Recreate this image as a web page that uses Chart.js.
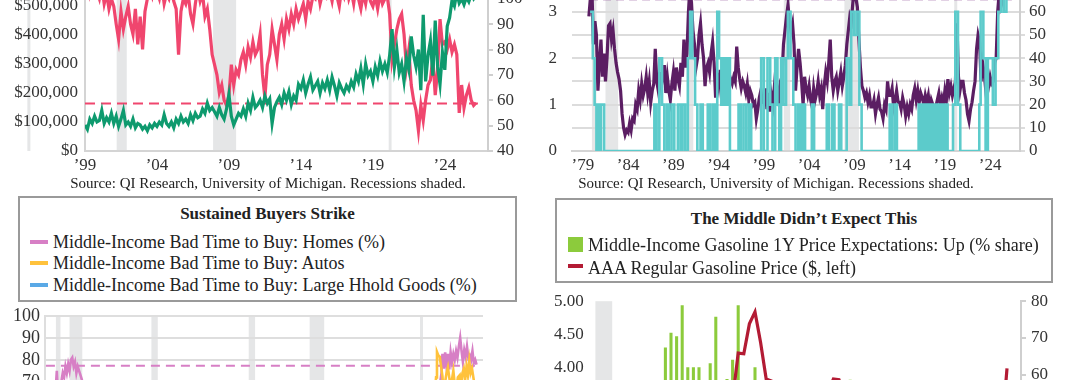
<!DOCTYPE html>
<html><head><meta charset="utf-8">
<script src="https://cdn.jsdelivr.net/npm/chart.js@4.4.1/dist/chart.umd.min.js"></script>
<style>
html,body{margin:0;padding:0;}
body{width:1080px;height:380px;overflow:hidden;position:relative;background:#fff;font-family:'Liberation Serif',serif;color:#222;}
.wrap{position:absolute;}
.src{position:absolute;font-size:15px;line-height:18px;white-space:nowrap;transform:translateX(-50%);color:#222;}
.lbox{position:absolute;border:2px solid #9a9a9a;box-sizing:border-box;background:#fff;}
.lbox .t{position:absolute;left:0;right:0;font-weight:bold;text-align:center;font-size:17px;line-height:20px;}
.item{position:absolute;font-size:18px;line-height:20px;white-space:nowrap;}
.mk{position:absolute;}
</style></head><body>

<div class="wrap" style="left:0;top:-100px;width:540px;height:285px"><canvas id="c1"></canvas></div>
<div class="wrap" style="left:540px;top:-100px;width:540px;height:285px"><canvas id="c2"></canvas></div>
<div class="wrap" style="left:0;top:300px;width:540px;height:300px"><canvas id="c3"></canvas></div>
<div class="wrap" style="left:540px;top:285px;width:540px;height:360px"><canvas id="c4"></canvas></div>

<div class="src" style="left:268px;top:174px">Source: QI Research, University of Michigan. Recessions shaded.</div>
<div class="src" style="left:776px;top:174px">Source: QI Research, University of Michigan. Recessions shaded.</div>

<div class="lbox" style="left:18px;top:196px;width:499px;height:106px">
  <div class="t" style="top:6px">Sustained Buyers Strike</div>
  <div class="mk" style="left:10px;top:42px;width:18px;height:4px;background:#D77FC5"></div>
  <div class="item" style="left:33px;top:34px">Middle-Income Bad Time to Buy: Homes (%)</div>
  <div class="mk" style="left:10px;top:63px;width:18px;height:4px;background:#FFC23C"></div>
  <div class="item" style="left:33px;top:55px">Middle-Income Bad Time to Buy: Autos</div>
  <div class="mk" style="left:10px;top:85px;width:18px;height:4px;background:#5AA9E6"></div>
  <div class="item" style="left:33px;top:77px">Middle-Income Bad Time to Buy: Large Hhold Goods (%)</div>
</div>

<div class="lbox" style="left:555px;top:198px;width:498px;height:85px">
  <div class="t" style="top:9px">The Middle Didn’t Expect This</div>
  <div class="mk" style="left:11px;top:37px;width:15px;height:15px;background:#8CCB3C"></div>
  <div class="item" style="left:31px;top:35px">Middle-Income Gasoline 1Y Price Expectations: Up (% share)</div>
  <div class="mk" style="left:11px;top:64px;width:15px;height:4px;background:#B31B34"></div>
  <div class="item" style="left:31px;top:58px">AAA Regular Gasoline Price ($, left)</div>
</div>

<script>
// ---------------- DATA ----------------
const recessions = [[1980.0,1980.5],[1981.5,1982.9],[1990.5,1991.2],[2001.2,2001.9],[2007.9,2009.5],[2020.1,2020.3]];

// Top-left: every 2 months from 1999.0
const tlStart = 1999.0, tlStep = 1/6;
const tlTickYears = [1999,2004,2009,2014,2019,2024];
const tlHomePrice = [ // $ thousands (left)
 90,75,110,95,120,100, 105,140,95,115,100,130, 95,120,85,110,140,90, 100,85,110,80,95,90,
 75,85,70,90,80,95, 85,100,90,125,95,85, 100,80,110,95,120,100, 110,95,125,105,130,115,
 120,145,130,165,140,150, 135,120,150,125,110,145, 195,120,90,110,130,120, 145,120,165,140,185,150,
 160,175,150,190,165,180, 95,150,170,185,160,200, 175,205,160,190,175,230, 215,245,200,230,255,210,
 225,240,200,235,215,245, 210,255,225,190,235,215, 200,225,210,240,220,265, 240,285,230,300,260,275,
 240,290,260,310,275,300, 270,330,420,290,350,270, 300,240,320,280,395,330, 290,350,210,470,240,330,
 380,260,450,290,230,340, 280,430,460,520,500,545, 510,525,505,530,515,540, 525,540];
const tlBuyConditions = [ // index (right)
 104,108,102,106,110,103, 100,105,98,102,96,100, 97,90,84,95,88,93, 97,90,86,96,82,93,
 80,95,100,104,101,106, 103,100,105,98,102,100, 104,99,96,78,95,100, 98,102,94,90,98,104,
 99,102,93,96,88,78, 74,70,63,66,60,58, 62,74,66,72,70,76, 79,74,81,77,83,78,
 80,86,70,61,74,78, 88,82,76,86,90,84, 92,88,94,90,96,92, 95,98,92,99,96,101,
 100,104,98,102,106,101, 103,99,105,101,97,104, 101,106,100,103,98,105, 100,96,102,98,104,99,
 97,101,96,102,98,100, 101,94,76,82,88,92, 94,86,73,80,66,60, 56,48,58,52,60,66,
 68,77,62,72,92,82, 83,80,84,79,82,78, 55,66,57,62,65,60, 58,59];
const tlBuyAvg = 58.7;

// Top-right: every 2 months from Sep 1979
const trStart = 1979 + 8/12, trStep = 1/6;
const trTickYears = [1979,1984,1989,1994,1999,2004,2009,2014,2019,2024];
const trPurple = [2.9,3.3,
 3.5,2.3,2.8,2.5,1.3,1.9, 2.4,1.6,2.1,1.5,2.0,2.7, 2.75,2.4,2.6,2.2,1.9,1.7, 1.55,1.3,0.8,0.5,0.35,0.45,
 0.4,0.6,0.45,0.7,0.65,1.0, 0.9,1.3,1.1,1.45,1.2,1.35, 1.6,1.25,1.5,1.05,1.3,1.45, 2.2,1.5,1.3,1.7,1.4,1.6,
 1.85,1.25,1.6,1.3,1.1,1.45, 1.7,1.3,1.8,1.55,1.4,1.9, 1.6,2.4,1.8,2.1,3.0,3.5, 3.2,2.6,2.3,1.8,2.0,2.5,
 2.75,2.3,2.0,1.4,1.8,1.9, 1.7,2.1,2.35,1.9,1.15,1.6, 1.4,1.75,1.35,1.6,1.5,1.3, 1.6,1.4,1.55,1.45,1.6,1.5,
 2.25,1.8,1.55,1.35,1.5,1.4, 1.25,1.45,1.1,1.3,1.2,1.0, 1.05,0.7,0.9,1.15,1.3,1.05, 1.05,1.35,0.9,1.25,0.85,1.2,
 1.0,1.4,1.15,1.3,1.05,1.5, 1.6,2.3,2.6,2.9,3.15,2.8, 2.6,2.75,2.3,1.3,1.8,2.2, 1.9,1.5,1.0,1.6,1.35,1.2,
 1.4,1.1,0.95,1.35,1.1,1.25, 1.5,1.2,1.35,0.9,1.4,1.7, 1.5,1.9,2.4,1.6,1.3,1.5, 1.6,1.3,1.5,1.7,1.4,1.6,
 1.85,2.3,2.6,2.9,2.8,3.2, 3.5,3.3,3.1,2.4,1.8,1.4, 1.3,1.15,1.25,1.05,1.2,0.95, 0.95,1.1,0.8,1.0,1.15,0.9,
 0.85,0.7,1.0,0.9,1.5,1.2, 1.2,1.35,0.95,1.1,1.3,1.05, 1.05,0.9,1.15,1.0,0.75,0.95, 0.8,1.0,0.9,1.2,1.35,1.1,
 1.3,1.05,1.25,1.15,1.0,1.2, 1.05,1.2,0.9,1.1,1.0,0.85, 0.95,1.1,1.25,1.0,1.15,1.0, 1.3,1.1,1.55,1.25,1.4,1.2,
 1.35,1.5,2.75,1.6,1.3,1.5, 1.5,1.25,1.1,0.8,0.65,0.9, 1.05,1.3,1.5,2.2,2.5,2.35, 1.5,1.9,1.7,1.35,1.5,1.4,
 1.6,1.45,1.5,1.9,2.0,3.0, 3.4,3.1,3.2,3.3,3.6,3.5, 3.5,3.8];
const trPurpleAvg = 3.27;
const trCyanYears = [1979.8,1980.1,1980.3,1980.5,1980.7,1980.85,1981.0,1981.35,
 1986.9,1987.15,1987.45,1987.75,1988.0,1988.3,1988.5,1988.8,1989.1,1989.5,1989.8,1990.0,1990.3,1990.6,1990.85,1991.1,1991.4,1991.65,
 1992.0,1992.25,1992.8,1993.05,1993.35,1993.6,1993.85,1994.05,1994.3,1994.55,1994.8,1995.0,1995.25,
 1996.2,1996.45,1996.75,1997.05,1997.35,1997.6,1998.7,1999.0,1999.4,1999.7,1999.95,2000.25,2000.5,2000.7,2000.9,
 2001.15,2001.45,2001.65,2001.95,2002.25,2002.5,2002.8,2003.05,2003.3,2003.55,2004.3,2004.55,2005.95,2006.2,2006.55,2006.8,
 2007.3,2007.55,2008.15,2008.45,2008.65,2008.95,2009.25,2009.55,2009.8,2012.9,2013.15,2013.45,2013.7,
 2016.1,2016.3,2016.5,2016.7,2016.9,2017.1,2017.3,2017.5,2017.75,2017.95,2018.2,2018.4,2018.65,2018.85,2019.1,2019.3,
 2019.9,2020.15,2020.45,2020.7,2022.8,2022.95,2023.25,2023.5,2023.75,2024.3,2024.6,2024.9,2025.2,2025.5,2025.8,2026.3];
const trCyanVals = [60,40,20,0,20,0,20,0,
 20,0,40,20,0,20,0,20,0,20,0,20,0,40,60,40,20,0,
 20,0,20,0,20,0,60,40,20,40,20,40,0,
 20,0,20,0,20,0,40,0,40,20,0,40,20,0,40,
 20,40,60,40,20,0,20,0,20,0,20,0,20,0,20,0,
 20,0,40,20,60,50,60,20,0,20,0,20,0,
 20,0,20,0,20,0,20,0,20,0,20,0,20,0,20,0,
 20,60,20,0,20,60,40,0,40,20,40,60,80,60,80,80];

// Bottom-left
const blTickYears = [1980,1985,1990,1995,2000,2005,2010,2015,2020,2025];
const blHomesYears = [1978.9,1979.3,1979.7,1980.0,1980.1,1980.2,1980.4,1980.6,1980.75,1980.9,1981.05,1981.2,1981.35,1981.5,1981.65,1981.8,1981.95,
 1982.1,1982.25,1982.4,1982.55,1982.7,1982.85,1983.0,1983.3,1983.7,1984.5,1986,1988,1990,1991,1993,1995,1998,2000,2002,2004,2006,2007,2008,2009,
 2011,2013,2015,2017,2019,2020.3,2021.0,2021.5,2021.9,2022.2,2022.4,2022.5,2022.65,2022.8,2022.95,2023.1,2023.25,2023.4,2023.55,2023.7,2023.85,
 2024.0,2024.15,2024.3,2024.45,2024.6,2024.75,2024.9,2025.05,2025.2,2025.35,2025.5,2025.65,2025.8,2025.95,2026.1,2026.25];
const blHomes = [52,58,64,68,75,66,62,70,74,72,77,74,78,75,80,81,77,
 79,74,77,75,73,71,66,58,50,45,38,35,40,45,30,32,25,28,25,22,35,42,38,28,
 22,20,24,26,30,40,45,58,64,68,74,82.7,76,83.4,77,82.7,75.6,83.4,79,82.7,80,
 84,81,86,90,84,79,84.5,81.5,86,81,82,80,84,78.5,80,77.8];
const blAutosYears = [1978.9,1980,1981,1982,1983,1985,1988,1991,1994,1997,2000,2003,2006,2008,2010,2013,2016,2019,2020.5,2021.0,2021.6,2021.8,2021.9,2022.05,2022.2,
 2022.35,2022.5,2022.6,2022.8,2022.95,2023.1,2023.25,2023.4,2023.55,2023.7,2023.85,2024.0,2024.2,2024.4,2024.55,2024.7,2024.85,2025.0,2025.15,2025.3,2025.45,2025.6,2025.75,2025.9,2026.05,2026.2];
const blAutos = [45,58,62,60,50,40,42,50,38,35,33,36,40,48,38,34,36,38,42,50,62,72,83.6,82,81.4,
 77,72.6,66,70,74,76.5,72,68,71,75,69,66,72,73,66,74,76,71,77,73,79.5,74,76,72,68,62];
const blGoodsYears = [1978.9,1981,1983,1986,1990,1993,1996,2000,2004,2008,2012,2016,2020,2022,2024,2026.2];
const blGoods = [40,52,45,30,38,28,26,24,22,35,25,22,30,50,45,52];
const blHomesAvg = 77.3, blAutosAvg = 70.3, blGoodsAvg = 40;

// Bottom-right: monthly from Jan 2020 (index 0)
const brMonths = 77; // Jan 2020 .. May 2026 axis span
const brRecession = [1,3]; // Feb-Apr 2020 (month index)
const brGasPrice = [
 2.58,2.47,2.26,1.87,1.88,2.08,2.18,2.18,2.19,2.16,2.11,2.20,
 2.38,2.58,2.86,2.87,3.04,3.07,3.15,3.18,3.18,3.29,3.40,3.31,
 3.31,3.52,4.22,4.21,4.66,4.84,4.38,3.83,3.80,3.74,3.62,3.15,
 3.35,3.40,3.45,3.62,3.55,3.58,3.62,3.83,3.82,3.60,3.30,3.15,
 3.10,3.25,3.45,3.62,3.60,3.45,3.50,3.42,3.25,3.15,3.08,3.05,
 3.10,3.15,3.10,3.18,3.17,3.15,3.15,3.15,3.17,3.08,3.05,2.95,
 2.85,2.95,3.99];
const brGasUp = [
 40,38,20,15,25,35,38,36,37,38,36,42,
 50,67.3,71.3,70.4,78.8,61.9,61.9,61.9,55,63,75.7,52,
 58.7,64,78.8,50,50,61.9,42,30,35,45,38,30,
 40,42,45,50,48,44,46,55,56,48,58.5,40,
 42,45,50,52,48,42,40,38,36,35,38,40,
 42,45,48,46,44,45,42,40,42,44,43,45,
 48,50,55];

// ---------------- HELPERS ----------------
Chart.defaults.font.family = "'Liberation Serif', serif";
Chart.defaults.color = '#333';
const pts = (start, step, arr) => arr.map((v,i)=>({x:start+i*step, y:v}));
const pairs = (xs, ys) => xs.map((x,i)=>({x:x, y:ys[i]}));
const flat = (x0,x1,v) => [{x:x0,y:v},{x:x1,y:v}];
const W = w => s => { s.width = w; };
const H = h => s => { s.height = h; };
const setTicks = arr => s => { s.ticks = arr.map(v=>({value:v})); };
const yr = v => '\u2019' + String(v).slice(2);

const recessPlugin = {
  id:'recess',
  beforeDraw(chart, args, opts){
    const {ctx, chartArea:a, scales} = chart; const x = scales.x;
    if(!opts.periods) return;
    ctx.save(); ctx.fillStyle = '#E5E6E7';
    opts.periods.forEach(([s,e])=>{
      let x0 = Math.max(a.left, x.getPixelForValue(s)), x1 = Math.min(a.right, x.getPixelForValue(e));
      if (x1 - x0 < 2.5) { const m=(x0+x1)/2; x0=m-1.5; x1=m+1.5; }
      ctx.fillRect(x0, a.top, x1-x0, a.bottom-a.top);
    });
    ctx.restore();
  }
};
Chart.register(recessPlugin);

const base = (pad) => ({
  responsive:true, maintainAspectRatio:false, animation:false, devicePixelRatio:1,
  layout:{padding:pad},
  plugins:{legend:{display:false}, tooltip:{enabled:false}},
  elements:{point:{radius:0}, line:{tension:0}}
});
const tickFont = s => ({size:s});

// ---------------- CHART 1 (top-left) ----------------
new Chart(document.getElementById('c1'), {
  type:'line',
  data:{datasets:[
    {data:pts(tlStart, tlStep, tlHomePrice.map(v=>v*1000)), yAxisID:'yL', borderColor:'#0E9A6E', borderWidth:3.2},
    {data:pts(tlStart, tlStep, tlBuyConditions), yAxisID:'yR', borderColor:'#F0466E', borderWidth:3.2},
    {data:flat(tlStart, 2026.3, tlBuyAvg), yAxisID:'yR', borderColor:'#F0466E', borderWidth:2, borderDash:[10,6]}
  ]},
  options:Object.assign(base({top:48,left:0,right:0,bottom:0}), {
    plugins:{legend:{display:false}, tooltip:{enabled:false}, recess:{periods:recessions}},
    scales:{
      x:{type:'linear', min:1999.0, max:2027.0, afterBuildTicks:setTicks(tlTickYears), afterFit:H(34),
         grid:{display:false, drawTicks:false}, border:{display:true,color:'#d4d4d4',width:2},
         ticks:{font:tickFont(17), padding:4, callback:yr, maxRotation:0, autoSkip:false}},
      yL:{position:'left', min:0, max:700000, afterFit:W(85),
          grid:{display:false, drawTicks:false}, border:{display:true,color:'#d4d4d4',width:2},
          ticks:{font:tickFont(17), padding:7, stepSize:100000, autoSkip:false, callback:v=>'$'+v.toLocaleString('en-US')}},
      yR:{position:'right', min:40, max:120, afterFit:W(52),
          grid:{drawOnChartArea:false, drawTicks:true, tickLength:5, color:'#cfcfcf', lineWidth:2}, border:{display:true,color:'#cfcfcf',width:2},
          ticks:{font:tickFont(17), padding:4, stepSize:10, autoSkip:false}}
    }
  })
});

// ---------------- CHART 2 (top-right) ----------------
new Chart(document.getElementById('c2'), {
  type:'line',
  data:{datasets:[
    {data:pairs(trCyanYears, trCyanVals), yAxisID:'yR', borderColor:'#5CCBCB', borderWidth:2.6, stepped:true},
    {data:pts(trStart, trStep, trPurple), yAxisID:'yL', borderColor:'#5B1E63', borderWidth:3.2},
    {data:flat(1979.8, 2026.4, trPurpleAvg), yAxisID:'yL', borderColor:'#8A4A94', borderWidth:2, borderDash:[8,5]}
  ]},
  options:Object.assign(base({top:65.4,left:0,right:0,bottom:0}), {
    plugins:{legend:{display:false}, tooltip:{enabled:false}, recess:{periods:recessions}},
    scales:{
      x:{type:'linear', min:1977.8, max:2027.3, afterBuildTicks:setTicks(trTickYears), afterFit:H(34),
         grid:{display:false, drawTicks:false}, border:{display:true,color:'#d4d4d4',width:2},
         ticks:{font:tickFont(17), padding:4, callback:yr, maxRotation:0, autoSkip:false}},
      yL:{position:'left', min:0, max:4, afterFit:W(32),
          grid:{display:false, drawTicks:false}, border:{display:false},
          ticks:{font:tickFont(17), padding:15, stepSize:1, autoSkip:false}},
      yR:{position:'right', min:0, max:80, afterFit:W(60),
          grid:{drawOnChartArea:true, drawTicks:true, tickLength:5, color:'#dcdcdc', lineWidth:2}, border:{display:true,color:'#cfcfcf',width:2},
          ticks:{font:tickFont(17), padding:4, stepSize:10, autoSkip:false}}
    }
  })
});

// ---------------- CHART 3 (bottom-left) ----------------
new Chart(document.getElementById('c3'), {
  type:'line',
  data:{datasets:[
    {data:pairs(blGoodsYears, blGoods), borderColor:'#5AA9E6', borderWidth:2.6},
    {data:pairs(blAutosYears, blAutos), borderColor:'#FFC23C', borderWidth:2.6},
    {data:pairs(blHomesYears, blHomes), borderColor:'#D77FC5', borderWidth:2.6},
    {data:flat(1978.9, 2026.25, blGoodsAvg), borderColor:'#5AA9E6', borderWidth:2, borderDash:[9,6]},
    {data:flat(1978.9, 2026.25, blAutosAvg), borderColor:'#FFC23C', borderWidth:2, borderDash:[9,6]},
    {data:flat(1978.9, 2026.25, blHomesAvg), borderColor:'#D77FC5', borderWidth:2, borderDash:[9,6]}
  ]},
  options:Object.assign(base({top:15.7,left:0,right:57,bottom:0}), {
    plugins:{legend:{display:false}, tooltip:{enabled:false}, recess:{periods:recessions}},
    scales:{
      x:{type:'linear', min:1978.8, max:2026.96, afterBuildTicks:setTicks(blTickYears), afterFit:H(64.3),
         grid:{display:false, drawTicks:false}, border:{display:true,color:'#d4d4d4',width:2},
         ticks:{font:tickFont(18), padding:5, callback:yr, maxRotation:0, autoSkip:false}},
      y:{position:'left', min:0, max:100, afterFit:W(45),
         grid:{drawOnChartArea:true, drawTicks:false, color:'#dedede', lineWidth:2}, border:{display:true,color:'#dedede',width:2},
         ticks:{font:tickFont(18), padding:5, stepSize:10, autoSkip:false}}
    }
  })
});

// ---------------- CHART 4 (bottom-right) ----------------
new Chart(document.getElementById('c4'), {
  type:'bar',
  data:{datasets:[
    {type:'bar', data:brGasUp.map((v,i)=>({x:i,y:v})), yAxisID:'yR', backgroundColor:'#8CCB3C', barThickness:2.4, order:2},
    {type:'line', data:brGasPrice.map((v,i)=>({x:i,y:v})), yAxisID:'yL', borderColor:'#B31B34', borderWidth:3.2, pointRadius:0, order:1}
  ]},
  options:Object.assign(base({top:15.7,left:0,right:0,bottom:0}), {
    plugins:{legend:{display:false}, tooltip:{enabled:false}, recess:{periods:[[brRecession[0]-0.5, brRecession[1]+0.5]]}},
    scales:{
      x:{type:'linear', min:-0.5, max:brMonths-0.5, offset:false, afterFit:H(49.9),
         grid:{display:false, offset:false, drawTicks:false}, border:{display:false}, ticks:{display:false}},
      yL:{position:'left', min:0.586, max:5.0, afterFit:W(49.8), afterBuildTicks:setTicks([1,1.5,2,2.5,3,3.5,4,4.5,5]),
          grid:{display:false, drawTicks:false}, border:{display:false},
          ticks:{font:tickFont(17), padding:6, autoSkip:false, callback:v=>Number(v).toFixed(2)}},
      yR:{position:'right', min:0, max:80, afterFit:W(59),
          grid:{drawOnChartArea:false, drawTicks:true, tickLength:5, color:'#cfcfcf', lineWidth:2}, border:{display:true,color:'#cfcfcf',width:2},
          ticks:{font:tickFont(17), padding:5, stepSize:10, autoSkip:false}}
    }
  })
});
</script>
</body></html>
